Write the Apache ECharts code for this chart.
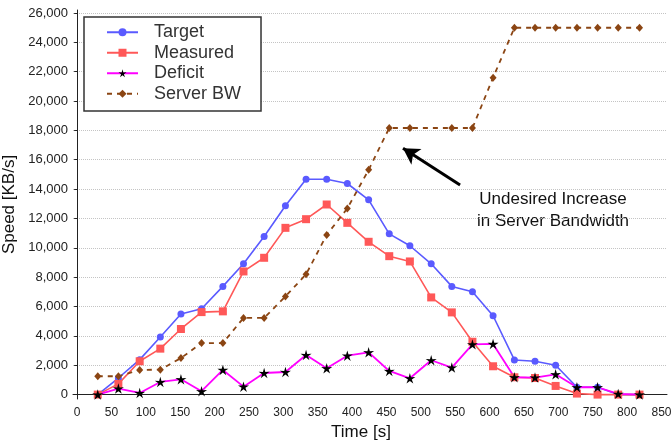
<!DOCTYPE html>
<html>
<head>
<meta charset="utf-8">
<script src="https://cdn.jsdelivr.net/npm/echarts@6/dist/echarts.min.js"></script>
<style>
  html, body { margin: 0; padding: 0; background: #fff; }
  #chart { width: 671px; height: 440px; }
</style>
</head>
<body>
<div id="chart"></div>
<script>
// sample times [s]
var times = [30, 60, 91, 121, 151, 181, 212, 242, 272, 303, 333, 363, 393, 424,
    454, 484, 515, 545, 575, 605, 636, 666, 696, 727, 757, 787, 818];
// speed [KB/s]
var target = [0, 1130, 2380, 3920, 5490, 5850, 7370, 8910, 10770, 12860, 14670, 14670, 14380, 13270,
    10950, 10140, 8910, 7370, 7010, 5370, 2360, 2270, 2000, 500, 500, 0, 0];
var measured = [0, 730, 2270, 3130, 4470, 5620, 5670, 8390, 9320, 11360, 11950, 12950, 11700, 10410,
    9430, 9070, 6620, 5600, 3600, 1930, 1180, 1130, 590, 70, 0, 0, 0];
var deficit = [0, 410, 110, 860, 1040, 230, 1680, 540, 1470, 1540, 2700, 1790, 2650, 2880,
    1610, 1110, 2340, 1840, 3420, 3450, 1180, 1160, 1380, 500, 500, 50, 0];
// server bandwidth has no sample at 515 s
var serverTimes = [30, 60, 91, 121, 151, 181, 212, 242, 272, 303, 333, 363, 393, 424,
    454, 484, 545, 575, 605, 636, 666, 696, 727, 757, 787, 818];
var serverBW = [1250, 1250, 1680, 1700, 2490, 3510, 3510, 5220, 5220, 6690, 8190, 10880, 12680, 15310,
    18160, 18160, 18160, 18160, 21590, 24990, 24990, 24990, 24990, 24990, 24990, 24990];

var xTicks = [0, 50, 100, 150, 200, 250, 300, 350, 400, 450, 500, 550, 600, 650, 700, 750, 800, 850];
var yTicks = [0, 2000, 4000, 6000, 8000, 10000, 12000, 14000, 16000, 18000, 20000, 22000, 24000, 26000];

function pairs(xs, ys) {
    return xs.map(function (x, i) { return [x, ys[i]]; });
}

var FONT = '"Liberation Sans", Arial, sans-serif';
var starPath = 'path://M10 0 L12.06 7.17 L19.51 6.91 L13.33 11.08 L15.88 18.09 L10 13.5 L4.12 18.09 L6.67 11.08 L0.49 6.91 L7.94 7.17 Z';

var chart = echarts.init(document.getElementById('chart'));

var option = {
    animation: false,
    backgroundColor: '#fff',
    textStyle: { fontFamily: FONT },
    grid: { left: 73, right: 4, top: 10, bottom: 41, outerBoundsMode: 'none', containLabel: false },
    legend: {
        orient: 'vertical',
        left: 84,
        top: 17,
        itemWidth: 31,
        itemHeight: 10,
        itemGap: 0,
        padding: [5, 20, 7, 22],
        borderColor: '#333',
        borderWidth: 1.5,
        backgroundColor: '#fff',
        textStyle: { fontFamily: FONT, fontSize: 18, color: '#333', lineHeight: 20.5, padding: [0, 0, 0, 11] },
        data: ['Target', 'Measured', 'Deficit', 'Server BW']
    },
    xAxis: {
        type: 'value',
        min: -6,
        max: 858,
        name: 'Time [s]',
        nameLocation: 'middle',
        nameGap: 25,
        nameTextStyle: { fontFamily: FONT, fontSize: 17, color: '#111', padding: [0, 18, 0, 0] },
        axisLine: { show: true, lineStyle: { color: '#222', width: 1 } },
        axisTick: { show: false, customValues: xTicks },
        axisLabel: { customValues: xTicks, fontSize: 12, color: '#222', margin: 8, fontFamily: FONT },
        splitLine: { show: false }
    },
    yAxis: {
        type: 'value',
        min: -300,
        max: 26200,
        name: 'Speed [KB/s]',
        nameLocation: 'middle',
        nameGap: 49,
        nameTextStyle: { fontFamily: FONT, fontSize: 17, color: '#111' },
        axisLine: { show: true, lineStyle: { color: '#222', width: 1 } },
        axisTick: { show: true, length: 3, customValues: yTicks, lineStyle: { color: '#222' } },
        axisLabel: {
            customValues: yTicks, fontSize: 13, color: '#222', margin: 5, fontFamily: FONT,
            formatter: function (v) { return v.toLocaleString('en-US'); }
        },
        splitLine: { show: true, lineStyle: { color: '#c4c4c4', type: 'dotted', width: 1 } }
    },
    graphic: [
        {
            type: 'text', silent: true,
            style: {
                text: 'Undesired Increase', fontFamily: FONT, fontSize: 17, fill: '#111',
                textAlign: 'center', textVerticalAlign: 'middle'
            },
            x: 553, y: 199
        },
        {
            type: 'text', silent: true,
            style: {
                text: 'in Server Bandwidth', fontFamily: FONT, fontSize: 17, fill: '#111',
                textAlign: 'center', textVerticalAlign: 'middle'
            },
            x: 553, y: 221
        }
    ],
    series: [
        {
            name: 'Target',
            type: 'line',
            data: pairs(times, target),
            symbol: 'circle',
            symbolSize: 7,
            showAllSymbol: true,
            itemStyle: { color: '#5a5aff' },
            lineStyle: { color: '#5a5aff', width: 1.6 }
        },
        {
            name: 'Measured',
            type: 'line',
            data: pairs(times, measured),
            symbol: 'rect',
            symbolSize: 8,
            showAllSymbol: true,
            itemStyle: { color: '#ff5858' },
            lineStyle: { color: '#ff5858', width: 1.6 }
        },
        {
            name: 'Deficit',
            type: 'line',
            data: pairs(times, deficit),
            symbol: starPath,
            symbolSize: 11,
            symbolKeepAspect: true,
            showAllSymbol: true,
            itemStyle: { color: '#000' },
            lineStyle: { color: '#ff00ff', width: 1.8 }
        },
        {
            name: 'Server BW',
            type: 'line',
            data: pairs(serverTimes, serverBW),
            symbol: 'diamond',
            symbolSize: [7, 8],
            showAllSymbol: true,
            itemStyle: { color: '#8b4513' },
            lineStyle: { color: '#8b4513', width: 1.8, type: [5, 5] },
            markLine: {
                silent: true,
                symbol: ['none', 'arrow'],
                symbolSize: [14, 16],
                label: { show: false },
                lineStyle: { color: '#000', width: 3, type: 'solid' },
                data: [[{ coord: [557, 14280] }, { coord: [474, 16780] }]]
            }
        }
    ]
};

chart.setOption(option);
</script>
</body>
</html>
